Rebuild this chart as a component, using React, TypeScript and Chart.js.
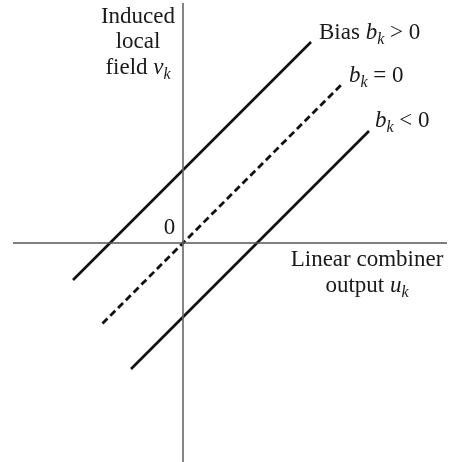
import React, { useEffect, useRef } from "react";
import { Chart, registerables } from "chart.js";

Chart.register(...registerables);

// Line offsets (bias b_k) and u-ranges for the three activation lines
const biasValues = [7.3, 0, -7.4];
const uStart = [-11, -8.05, -5.2];
const uEnd = [12.8, 15.9, 18.6];
const lineDashes: number[][] = [[], [7, 4], []];

// Axis extents
const xAxisRange = [-17, 26.4];
const yAxisRange = [-22, 24];

type Seg = { t: string; i?: boolean; sub?: boolean };
type Label = { x: number; y: number; align: "left" | "center"; segs: Seg[] };

const labels: Label[] = [
  { x: -4.5, y: 22.0, align: "center", segs: [{ t: "Induced" }] },
  { x: -4.5, y: 19.5, align: "center", segs: [{ t: "local" }] },
  { x: -4.5, y: 16.9, align: "center", segs: [{ t: "field " }, { t: "v", i: true }, { t: "k", i: true, sub: true }] },
  { x: 13.6, y: 20.4, align: "left", segs: [{ t: "Bias " }, { t: "b", i: true }, { t: "k", i: true, sub: true }, { t: " > 0" }] },
  { x: 16.6, y: 16.1, align: "left", segs: [{ t: "b", i: true }, { t: "k", i: true, sub: true }, { t: " = 0" }] },
  { x: 19.2, y: 11.6, align: "left", segs: [{ t: "b", i: true }, { t: "k", i: true, sub: true }, { t: " < 0" }] },
  { x: 18.4, y: -2.3, align: "center", segs: [{ t: "Linear combiner" }] },
  { x: 18.4, y: -4.9, align: "center", segs: [{ t: "output " }, { t: "u", i: true }, { t: "k", i: true, sub: true }] },
  { x: -1.35, y: 0.9, align: "center", segs: [{ t: "0" }] },
];

const FAMILY = '"Liberation Serif", "Times New Roman", serif';
const MAIN = 23;
const SUB = 16;

function fontFor(s: Seg) {
  return `${s.i ? "italic " : ""}${s.sub ? SUB : MAIN}px ${FAMILY}`;
}

const labelPlugin = {
  id: "labelPlugin",
  afterDatasetsDraw(chart: any) {
    const ctx = chart.ctx as CanvasRenderingContext2D;
    const xs = chart.scales.x;
    const ys = chart.scales.y;
    ctx.save();
    ctx.fillStyle = "#1a1a1a";
    ctx.textBaseline = "alphabetic";
    ctx.textAlign = "left";
    for (const lab of labels) {
      let total = 0;
      const widths = lab.segs.map((s) => {
        ctx.font = fontFor(s);
        const w = ctx.measureText(s.t).width;
        total += w;
        return w;
      });
      let px = xs.getPixelForValue(lab.x);
      const py = ys.getPixelForValue(lab.y);
      if (lab.align === "center") px -= total / 2;
      lab.segs.forEach((s, k) => {
        ctx.font = fontFor(s);
        ctx.fillText(s.t, px, py + (s.sub ? 5 : 0));
        px += widths[k];
      });
    }
    ctx.restore();
  },
};

export default function App() {
  const ref = useRef<HTMLCanvasElement | null>(null);
  useEffect(() => {
    document.body.style.margin = "0";
    const datasets: any[] = [
      {
        data: [
          { x: xAxisRange[0], y: 0 },
          { x: xAxisRange[1], y: 0 },
        ],
        borderColor: "#555555",
        borderWidth: 1.6,
      },
      {
        data: [
          { x: 0, y: yAxisRange[1] },
          { x: 0, y: yAxisRange[0] },
        ],
        borderColor: "#666666",
        borderWidth: 1.6,
      },
    ];
    biasValues.forEach((b, k) => {
      datasets.push({
        data: [
          { x: uStart[k], y: uStart[k] + b },
          { x: uEnd[k], y: uEnd[k] + b },
        ],
        borderColor: "#111111",
        borderWidth: k === 1 ? 2.8 : 2.6,
        borderDash: lineDashes[k],
      });
    });
    datasets.forEach((d) => {
      d.showLine = true;
      d.pointRadius = 0;
      d.fill = false;
      d.tension = 0;
      d.borderCapStyle = "butt";
    });
    const chart = new Chart(ref.current as HTMLCanvasElement, {
      type: "scatter",
      data: { datasets },
      options: {
        animation: false,
        responsive: false,
        layout: { padding: 0 },
        plugins: { legend: { display: false }, tooltip: { enabled: false } },
        scales: {
          x: { type: "linear", display: false, min: -18.3, max: 27.2 },
          y: { type: "linear", display: false, min: -21.9, max: 24.3 },
        },
      },
      plugins: [labelPlugin],
    });
    return () => chart.destroy();
  }, []);
  return (
    <div style={{ width: 455, height: 462, background: "#fff" }}>
      <canvas ref={ref} width={455} height={462} />
    </div>
  );
}
